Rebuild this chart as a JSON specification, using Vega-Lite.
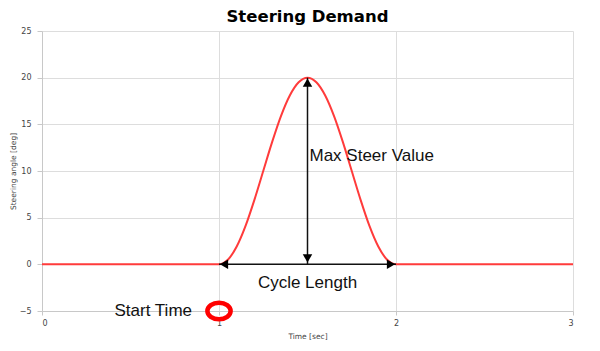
{
  "$schema": "https://vega.github.io/schema/vega-lite/v6.json",
  "autosize": "none",
  "width": 531,
  "height": 280,
  "padding": {"left": 42, "top": 31, "right": 27, "bottom": 40},
  "background": "white",
  "title": {"text": "Steering Demand", "font": "DejaVu Sans", "fontSize": 16.5, "fontWeight": "bold", "color": "#000", "anchor": "middle", "offset": 2},
  "config": {
    "view": {"stroke": null},
    "axis": {"gridColor": "#dddddd", "domainColor": "#c8c8c8", "tickColor": "#c8c8c8", "labelColor": "#444", "labelFont": "DejaVu Sans", "labelFontSize": 8, "titleFont": "DejaVu Sans", "titleFontSize": 7.5, "titleFontWeight": "normal", "titleColor": "#444"}
  },
  "datasets": {
    "curve": [
      {"t": 0, "v": 0}, {"t": 1, "v": 0},
      {"t": 1.05, "v": 0.49}, {"t": 1.1, "v": 1.91}, {"t": 1.15, "v": 4.12}, {"t": 1.2, "v": 6.91},
      {"t": 1.25, "v": 10}, {"t": 1.3, "v": 13.09}, {"t": 1.35, "v": 15.88}, {"t": 1.4, "v": 18.09},
      {"t": 1.45, "v": 19.51}, {"t": 1.5, "v": 20}, {"t": 1.55, "v": 19.51}, {"t": 1.6, "v": 18.09},
      {"t": 1.65, "v": 15.88}, {"t": 1.7, "v": 13.09}, {"t": 1.75, "v": 10}, {"t": 1.8, "v": 6.91},
      {"t": 1.85, "v": 4.12}, {"t": 1.9, "v": 1.91}, {"t": 1.95, "v": 0.49}, {"t": 2, "v": 0},
      {"t": 3, "v": 0}
    ]
  },
  "layer": [
    {
      "data": {"name": "curve"},
      "mark": {"type": "line", "color": "#ff3b3b", "strokeWidth": 2, "interpolate": "monotone"},
      "encoding": {
        "x": {"field": "t", "type": "quantitative", "scale": {"domain": [0, 3], "nice": false}, "axis": {"title": "Time [sec]", "values": [0, 1, 2, 3], "format": "d", "tickSize": 4, "labelPadding": 4, "titlePadding": 5}},
        "y": {"field": "v", "type": "quantitative", "scale": {"domain": [-5, 25], "nice": false}, "axis": {"title": "Steering angle [deg]", "values": [-5, 0, 5, 10, 15, 20, 25], "tickSize": 5, "labelPadding": 6, "titlePadding": 2}}
      }
    },
    {
      "data": {"values": [{"x1": 1, "x2": 2, "y": 0}]},
      "mark": {"type": "rule", "color": "#111", "strokeWidth": 1.5},
      "encoding": {"x": {"field": "x1", "type": "quantitative"}, "x2": {"field": "x2"}, "y": {"field": "y", "type": "quantitative"}}
    },
    {
      "data": {"values": [{"x": 1.5, "y1": 0, "y2": 20}]},
      "mark": {"type": "rule", "color": "#111", "strokeWidth": 1.5},
      "encoding": {"x": {"field": "x", "type": "quantitative"}, "y": {"field": "y1", "type": "quantitative"}, "y2": {"field": "y2"}}
    },
    {
      "data": {"values": [{"x": 1.5, "y": 20}]},
      "mark": {"type": "point", "shape": "triangle-up", "filled": true, "color": "#000", "size": 90, "opacity": 1, "yOffset": 5},
      "encoding": {"x": {"field": "x", "type": "quantitative"}, "y": {"field": "y", "type": "quantitative"}}
    },
    {
      "data": {"values": [{"x": 1.5, "y": 0}]},
      "mark": {"type": "point", "shape": "triangle-down", "filled": true, "color": "#000", "size": 90, "opacity": 1, "yOffset": -6},
      "encoding": {"x": {"field": "x", "type": "quantitative"}, "y": {"field": "y", "type": "quantitative"}}
    },
    {
      "data": {"values": [{"x": 1, "y": 0}]},
      "mark": {"type": "point", "shape": "triangle-left", "filled": true, "color": "#000", "size": 90, "opacity": 1, "xOffset": 5},
      "encoding": {"x": {"field": "x", "type": "quantitative"}, "y": {"field": "y", "type": "quantitative"}}
    },
    {
      "data": {"values": [{"x": 2, "y": 0}]},
      "mark": {"type": "point", "shape": "triangle-right", "filled": true, "color": "#000", "size": 90, "opacity": 1, "xOffset": -5},
      "encoding": {"x": {"field": "x", "type": "quantitative"}, "y": {"field": "y", "type": "quantitative"}}
    },
    {
      "data": {"values": [{"x": 1, "y": -5}]},
      "mark": {"type": "point", "shape": "M-1,0A1,0.72,0,1,1,1,0A1,0.72,0,1,1,-1,0Z", "filled": false, "color": "#ff0000", "strokeWidth": 4.5, "size": 540, "opacity": 1},
      "encoding": {"x": {"field": "x", "type": "quantitative"}, "y": {"field": "y", "type": "quantitative"}}
    },
    {
      "data": {"values": [{"x": 1.5, "y": -2, "label": "Cycle Length"}]},
      "mark": {"type": "text", "font": "Liberation Sans", "fontSize": 17, "color": "#111", "align": "center", "baseline": "middle"},
      "encoding": {"x": {"field": "x", "type": "quantitative"}, "y": {"field": "y", "type": "quantitative"}, "text": {"field": "label"}}
    },
    {
      "data": {"values": [{"x": 1.5, "y": 11.6, "label": "Max Steer Value"}]},
      "mark": {"type": "text", "font": "Liberation Sans", "fontSize": 17, "color": "#111", "align": "left", "baseline": "middle", "dx": 2},
      "encoding": {"x": {"field": "x", "type": "quantitative"}, "y": {"field": "y", "type": "quantitative"}, "text": {"field": "label"}}
    },
    {
      "data": {"values": [{"x": 1, "y": -5, "label": "Start Time"}]},
      "mark": {"type": "text", "font": "Liberation Sans", "fontSize": 17, "color": "#111", "align": "right", "baseline": "middle", "dx": -27},
      "encoding": {"x": {"field": "x", "type": "quantitative"}, "y": {"field": "y", "type": "quantitative"}, "text": {"field": "label"}}
    }
  ]
}
